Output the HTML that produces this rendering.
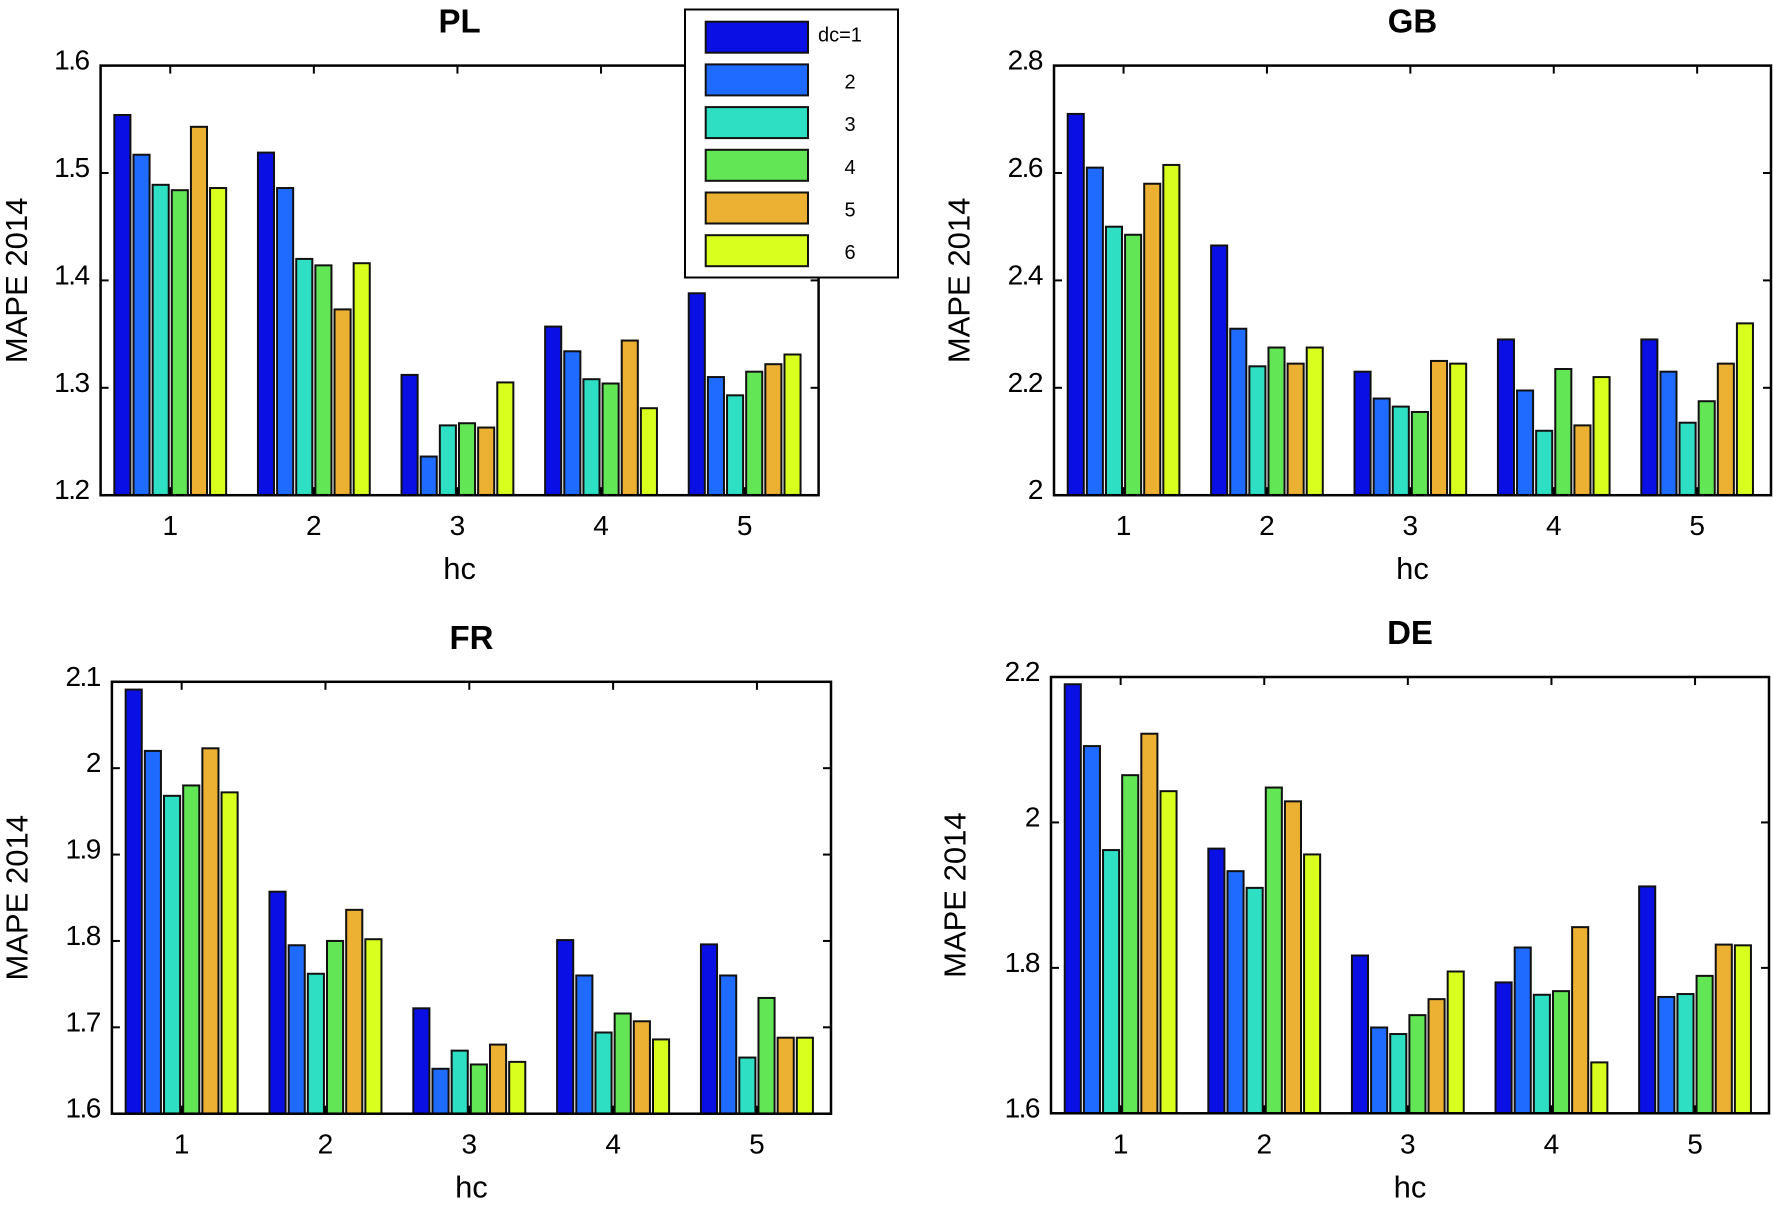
<!DOCTYPE html>
<html><head><meta charset="utf-8"><style>
body{margin:0;background:#fff;}
svg{display:block;font-family:"Liberation Sans",Arial,sans-serif;}
</style></head><body>
<svg id="fig" width="1773" height="1212" viewBox="0 0 1773 1212" xmlns="http://www.w3.org/2000/svg"></svg>
<script>
const groups=[1,2,3,4,5];
const seriesNames=["dc=1","2","3","4","5","6"];
const colors=["#0a10e4","#1f6bff","#2edfc4","#62e656","#ecb032","#d8ff1e"];
const plVals=[[1.554,1.517,1.489,1.484,1.543,1.486],[1.519,1.486,1.420,1.414,1.373,1.416],[1.312,1.236,1.265,1.267,1.263,1.305],[1.357,1.334,1.308,1.304,1.344,1.281],[1.388,1.310,1.293,1.315,1.322,1.331]];
const gbVals=[[2.71,2.61,2.50,2.485,2.58,2.615],[2.465,2.31,2.24,2.275,2.245,2.275],[2.23,2.18,2.165,2.155,2.25,2.245],[2.29,2.195,2.12,2.235,2.13,2.22],[2.29,2.23,2.135,2.175,2.245,2.32]];
const frVals=[[2.091,2.02,1.968,1.98,2.023,1.972],[1.857,1.795,1.762,1.80,1.836,1.802],[1.722,1.652,1.673,1.657,1.680,1.660],[1.801,1.760,1.694,1.716,1.707,1.686],[1.796,1.760,1.665,1.734,1.688,1.688]];
const deVals=[[2.19,2.105,1.962,2.065,2.122,2.043],[1.964,1.933,1.910,2.048,2.029,1.956],[1.817,1.718,1.709,1.735,1.757,1.795],[1.780,1.828,1.763,1.768,1.856,1.670],[1.912,1.760,1.764,1.789,1.832,1.831]];
const plTicks=["1.2","1.3","1.4","1.5","1.6"];
const gbTicks=["2","2.2","2.4","2.6","2.8"];
const frTicks=["1.6","1.7","1.8","1.9","2","2.1"];
const deTicks=["1.6","1.8","2","2.2"];

const NS="http://www.w3.org/2000/svg";
const svg=document.getElementById('fig');
function mk(tag,attrs,parent){const e=document.createElementNS(NS,tag);for(const k in attrs)e.setAttribute(k,attrs[k]);(parent||svg).appendChild(e);return e;}

const panels=[
 {key:"pl",title:"PL",vals:plVals,ticks:plTicks,L:100.6,R:818.6,T:65.6,B:495.2,ylo:-84},
 {key:"gb",title:"GB",vals:gbVals,ticks:gbTicks,L:1054,R:1771,T:65.6,B:495.2,ylo:-95},
 {key:"fr",title:"FR",vals:frVals,ticks:frTicks,L:111.9,R:831,T:681.8,B:1113.7,ylo:-95},
 {key:"de",title:"DE",vals:deVals,ticks:deTicks,L:1051,R:1769,T:677,B:1113.3,ylo:-96}
];
panels.forEach(p=>{
 const g=mk('g',{});
 
 
 const ymin=parseFloat(p.ticks[0]),ymax=parseFloat(p.ticks[p.ticks.length-1]);
 const yS=v=>p.B-(v-ymin)/(ymax-ymin)*(p.B-p.T);
 const sp=(p.R-p.L)/groups.length;
 const gx=i=>p.L+sp*0.485+i*sp;
 const pitch=sp*0.8/6, bw=pitch*0.84;
 p.vals.forEach((row,gi)=>{
  row.forEach((v,si)=>{
   const cx=gx(gi)+(si-2.5)*pitch;
   const r=mk('rect',{x:cx-bw/2,y:yS(v),width:bw,height:p.B-yS(v),fill:colors[si],stroke:"#111","stroke-width":2},g);
   
   
  });
 });
 const ax=mk('rect',{x:p.L,y:p.T,width:p.R-p.L,height:p.B-p.T,fill:"none",stroke:"#000","stroke-width":2.5},g);
 
 
 groups.forEach((gv,gi)=>{
  const x=gx(gi);
  mk('line',{x1:x,x2:x,y1:p.B,y2:p.B-8,stroke:"#000","stroke-width":2},g);
  mk('line',{x1:x,x2:x,y1:p.T,y2:p.T+8,stroke:"#000","stroke-width":2},g);
  const t=mk('text',{x:x,y:p.B+40,"text-anchor":"middle","font-size":28},g);
  t.textContent=gv;
  
  
 });
 p.ticks.forEach(tv=>{
  const y=yS(parseFloat(tv));
  mk('line',{x1:p.L,x2:p.L+8,y1:y,y2:y,stroke:"#000","stroke-width":2},g);
  mk('line',{x1:p.R,x2:p.R-8,y1:y,y2:y,stroke:"#000","stroke-width":2},g);
  const t=mk('text',{x:p.L-12,y:y+4,"text-anchor":"end","font-size":28,"letter-spacing":-1.5},g);
  t.textContent=tv;
  
  
 });
 const ti=mk('text',{x:(p.L+p.R)/2,y:p.T-33,"text-anchor":"middle","font-size":33,"font-weight":"bold"},g);
 ti.textContent=p.title;
 
 
 const xl=mk('text',{x:(p.L+p.R)/2,y:p.B+84,"text-anchor":"middle","font-size":31},g);
 xl.textContent="hc";
 
 
 const yc=(p.T+p.B)/2, yx=p.L+p.ylo;
 const yl=mk('text',{x:yx,y:yc,"text-anchor":"middle","dominant-baseline":"central","font-size":31,transform:`rotate(-90 ${yx} ${yc})`},g);
 yl.textContent="MAPE 2014";
 
 
});
// legend
const lg=mk('g',{});


mk('rect',{x:685,y:9.5,width:213,height:268,fill:"#fff",stroke:"#000","stroke-width":2},lg);
seriesNames.forEach((n,i)=>{
 const y=21.7+i*42.7;
 const r=mk('rect',{x:705.7,y:y,width:102.3,height:31,fill:colors[i],stroke:"#111","stroke-width":2},lg);
 
 
 const t=mk('text',i===0?{x:818,y:y+20,"font-size":20}:{x:850,y:y+24,"text-anchor":"middle","font-size":20},lg);
 t.textContent=n;
 
 
});
</script>
</body></html>
